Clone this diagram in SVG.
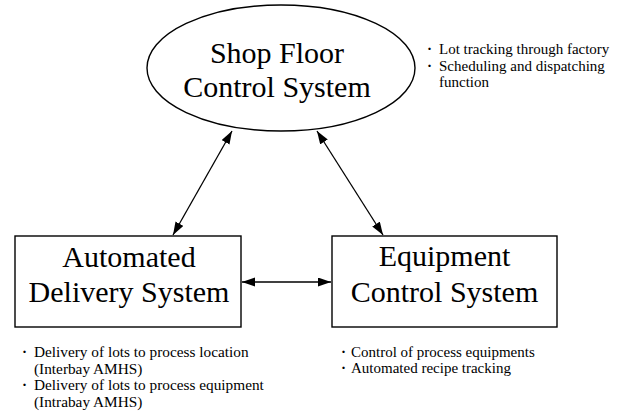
<svg xmlns="http://www.w3.org/2000/svg" width="618" height="412" viewBox="0 0 618 412">
  <style>
    .shape { fill: #fff; stroke: #000; stroke-width: 1.4; }
    .title { font-family: "Liberation Serif", "Times New Roman", serif; font-size: 30px; fill: #000; text-anchor: middle; }
    .note { font-family: "Liberation Serif", "Times New Roman", serif; font-size: 15px; fill: #000; }
    .wide { font-size: 15.3px; }
    .bullet { font-family: "Liberation Serif", "Times New Roman", serif; font-size: 15px; font-weight: bold; fill: #000; }
    .link { stroke: #000; stroke-width: 1.3; fill: none; marker-start: url(#head); marker-end: url(#head); }
  </style>
  <defs>
    <marker id="head" markerUnits="userSpaceOnUse" markerWidth="14" markerHeight="10" refX="13" refY="4.5" orient="auto-start-reverse">
      <path d="M0,0 L13,4.5 L0,9 z" fill="#000"/>
    </marker>
  </defs>
  <rect width="618" height="412" fill="#fff"/>

  <!-- connectors -->
  <g id="connectors">
    <line class="link" x1="232" y1="131" x2="173" y2="235"/>
    <line class="link" x1="317" y1="131" x2="383" y2="235"/>
    <line class="link" x1="242" y1="282" x2="331" y2="282"/>
  </g>

  <!-- Shop Floor Control System -->
  <g id="shop-floor">
    <ellipse class="shape" cx="281" cy="68" rx="134" ry="63"/>
    <text class="title" x="277" y="63">Shop Floor</text>
    <text class="title" x="277" y="97">Control System</text>
  </g>

  <!-- Automated Delivery System -->
  <g id="delivery">
    <rect class="shape" x="15" y="236" width="226" height="91"/>
    <text class="title" x="129" y="267">Automated</text>
    <text class="title" x="129" y="302">Delivery System</text>
  </g>

  <!-- Equipment Control System -->
  <g id="equipment">
    <rect class="shape" x="332" y="236" width="225" height="91"/>
    <text class="title" x="444.5" y="266">Equipment</text>
    <text class="title" x="444.5" y="302">Control System</text>
  </g>

  <!-- functions of each system -->
  <g id="shop-floor-notes">
    <text class="bullet" x="427" y="54">·</text>
    <text class="note" x="439" y="54">Lot tracking through factory</text>
    <text class="bullet" x="427" y="70.5">·</text>
    <text class="note" x="439" y="70.5">Scheduling and dispatching</text>
    <text class="note" x="439" y="87">function</text>
  </g>
  <g id="delivery-notes">
    <text class="bullet" x="22" y="357">·</text>
    <text class="note wide" x="34" y="357">Delivery of lots to process location</text>
    <text class="note wide" x="34" y="373.5">(Interbay AMHS)</text>
    <text class="bullet" x="22" y="390">·</text>
    <text class="note wide" x="34" y="390">Delivery of lots to process equipment</text>
    <text class="note wide" x="34" y="406.5">(Intrabay AMHS)</text>
  </g>
  <g id="equipment-notes">
    <text class="bullet" x="341" y="357">·</text>
    <text class="note" x="351" y="357">Control of process equipments</text>
    <text class="bullet" x="341" y="373">·</text>
    <text class="note" x="351" y="373">Automated recipe tracking</text>
  </g>
</svg>
